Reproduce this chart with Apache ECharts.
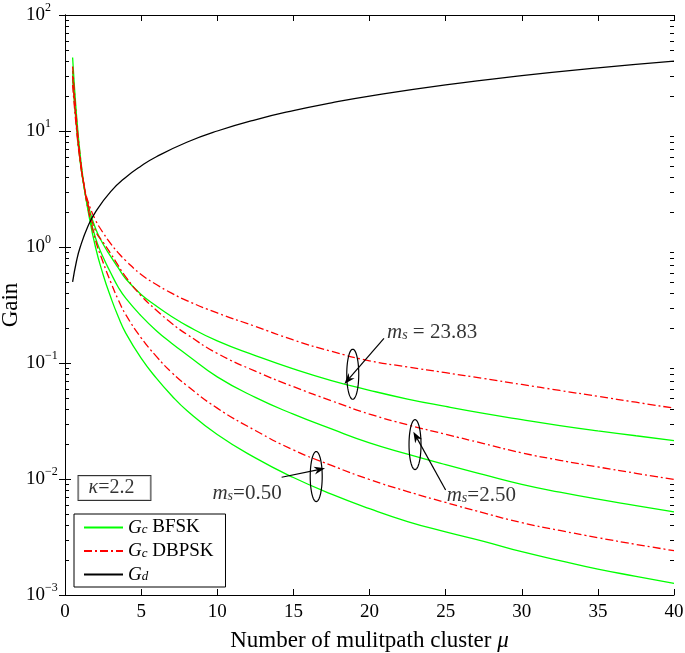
<!DOCTYPE html>
<html><head><meta charset="utf-8">
<script src="https://cdn.jsdelivr.net/npm/echarts@6/dist/echarts.min.js"></script>
<style>html,body{margin:0;padding:0;background:#fff}#c{width:685px;height:653px}</style>
</head><body><div id="c"></div>
<script>
// ---------- data ----------
const mu = [0.5,0.75,1,1.25,1.5,2,2.5,3,3.5,4,5,6,7,8,10,12.5,15,17.5,20,22.5,25,27.5,30,32.5,35,37.5,40];
const bfsk_ms050   = [43,14,6.2,3.4,2.1,1.0,0.58,0.37,0.25,0.18,0.11,0.074,0.0525,0.039,0.0242,0.0152,0.0103,0.0074,0.00555,0.0043,0.0035,0.0029,0.00236,0.00198,0.00167,0.00145,0.00126];
const dbpsk_ms050  = [36,13,6.0,3.4,2.2,1.15,0.74,0.5,0.35,0.26,0.165,0.114,0.083,0.064,0.0408,0.0262,0.0178,0.0131,0.0099,0.0078,0.00628,0.0051,0.0042,0.0036,0.00312,0.00273,0.00241];
const bfsk_ms250   = [33,12,5.6,3.3,2.2,1.2,0.82,0.6,0.45,0.36,0.255,0.19,0.148,0.118,0.076,0.0505,0.0362,0.027,0.0205,0.0164,0.0133,0.0109,0.0090,0.0077,0.0067,0.0059,0.0052];
const dbpsk_ms250  = [30,11.5,5.6,3.4,2.35,1.38,1.1,0.88,0.69,0.55,0.38,0.285,0.22,0.177,0.121,0.085,0.0625,0.0472,0.0363,0.0293,0.0243,0.0202,0.0168,0.0145,0.0127,0.0112,0.0099];
const bfsk_ms2383  = [28,11,5.4,3.3,2.35,1.45,1.06,0.83,0.66,0.53,0.39,0.31,0.252,0.21,0.155,0.116,0.089,0.0706,0.0582,0.0489,0.0422,0.0368,0.0325,0.0289,0.026,0.0236,0.0214];
const dbpsk_ms2383 = [25,10.5,5.4,3.4,2.5,1.71,1.33,1.07,0.89,0.76,0.58,0.475,0.4,0.345,0.27,0.207,0.158,0.126,0.1045,0.0925,0.0825,0.0735,0.0653,0.058,0.0516,0.0459,0.0408];
const muGd = [0.5,0.75,1,1.5,2,3,4,5,6,8,10,12.5,15,17.5,20,25,30,35,40];
const gd   = [0.5,0.75,1.0,1.5,2.0,3.0,4.0,5.0,6.0,8.0,10,12.5,15,17.5,20,25,30,35,40];

const xTicks = [0,5,10,15,20,25,30,35,40];
const yDecades = [-3,-2,-1,0,1,2];

// annotations (data coordinates)
const ellipseCenters = [[18.9,0.080],[22.99,0.0198],[16.5,0.0105]];
const arrowSegs = [[20.95,0.163,18.35,0.0659],[25.0,0.00804,22.88,0.0256],[14.23,0.01035,17.08,0.01236]];
const msLabels = [' = 23.83','=2.50','=0.50'];
const msLabelAt = [[21.15,0.185],[25.07,0.00728],[14.23,0.00755]];
const kappaText = '=2.2';
const kappaAt = [3.25,0.00835];

// ---------- chart ----------
const FONT = 'Liberation Serif';
const GREEN = '#00ff00', RED = '#ff0000';
const zip = (xs, ys) => xs.map((x,i)=>[x, ys[i]]);

const minorVals = [];
for (let e = -3; e < 2; e++) for (let m = 2; m <= 9; m++) minorVals.push(m*Math.pow(10,e));

function lineSeries(name, ys, color, dashed, xs) {
  return {
    name, type:'line', data: zip(xs||mu, ys), symbol:'none', smooth:0.5,
    lineStyle:{color, width:1.3, type: dashed ? [8,3,2,3] : 'solid'},
    itemStyle:{color}, emphasis:{disabled:true}, silent:true, z:3
  };
}

const supRich = {
  b:{fontSize:19, fontFamily:FONT, color:'#000', lineHeight:26},
  s:{fontSize:12, fontFamily:FONT, color:'#000', lineHeight:12, verticalAlign:'top'}
};

const subRich = {
  i:{fontSize:19, fontFamily:FONT, fontStyle:'italic', color:'#000', lineHeight:18},
  sub:{fontSize:13, fontFamily:FONT, fontStyle:'italic', color:'#000', lineHeight:12, verticalAlign:'bottom'},
  t:{fontSize:19, fontFamily:FONT, color:'#000', lineHeight:18}
};

const baseY = {
  type:'log', logBase:10, min:0.001, max:100, splitLine:{show:false},
  axisLine:{show:true, lineStyle:{color:'#000', width:1}},
  axisTick:{show:true, inside:true, length:6, lineStyle:{color:'#000'}},
};
const baseX = {
  type:'value', min:0, max:40, interval:5, splitLine:{show:false},
  axisLine:{show:true, onZero:false, lineStyle:{color:'#000', width:1}},
  axisTick:{show:true, inside:true, length:6, lineStyle:{color:'#000'}},
};

const option = {
  animation:false,
  backgroundColor:'#fff',
  grid:{left:65, right:11, top:15, bottom:58, containLabel:false, outerBoundsMode:'none'},
  xAxis:[
    Object.assign({}, baseX, {
      position:'bottom',
      axisLabel:{fontSize:19, fontFamily:FONT, color:'#000', margin:8},
      name:'{t|Number of mulitpath cluster }{i|μ}', nameLocation:'middle', nameGap:34, nameMoveOverlap:false,
      nameTextStyle:{rich:{t:{fontSize:23, fontFamily:FONT, color:'#000'}, i:{fontSize:23, fontFamily:FONT, fontStyle:'italic', color:'#000'}}}
    }),
    Object.assign({}, baseX, {position:'top', axisLabel:{show:false}})
  ],
  yAxis:[
    Object.assign({}, baseY, {
      position:'left',
      axisLabel:{align:'left', margin:39,
        formatter: v => { const e = Math.round(Math.log10(v)); return '{b|10}{s|' + (e<0 ? '−'+(-e) : e) + '}'; },
        rich:supRich},
      name:'Gain', nameLocation:'middle', nameGap:43, nameRotate:90, nameMoveOverlap:false,
      nameTextStyle:{fontSize:23, fontFamily:FONT, color:'#000'}
    }),
    Object.assign({}, baseY, {position:'right', axisLabel:{show:false}})
  ],
  legend:{
    show:true, orient:'vertical', left:74, top:514,
    data:['Gc BFSK','Gc DBPSK','Gd'],
    itemWidth:39, itemHeight:18, itemGap:4.5,
    padding:[4,12,3,9],
    borderColor:'#000', borderWidth:1, backgroundColor:'#fff',
    selectedMode:false,
    itemStyle:{opacity:0, borderWidth:0},
    formatter: n => ({'Gc BFSK':'{i|G}{sub|c}{t| BFSK}','Gc DBPSK':'{i|G}{sub|c}{t| DBPSK}','Gd':'{i|G}{sub|d}'})[n],
    textStyle:{rich:subRich}
  },
  series:[
    lineSeries('Gc BFSK', bfsk_ms050, GREEN, false),
    lineSeries('Gc BFSK', bfsk_ms250, GREEN, false),
    lineSeries('Gc BFSK', bfsk_ms2383, GREEN, false),
    lineSeries('Gc DBPSK', dbpsk_ms050, RED, true),
    lineSeries('Gc DBPSK', dbpsk_ms250, RED, true),
    lineSeries('Gc DBPSK', dbpsk_ms2383, RED, true),
    lineSeries('Gd', gd, '#000', false, muGd),
    { // minor log ticks on left & right axes
      type:'custom', silent:true, z:4, clip:false, data: minorVals.map(v=>[20, v]),
      renderItem:(params, api) => {
        const cs = params.coordSys; const y = Math.round(api.coord([20, api.value(1)])[1]) + 0.5;
        const xl = Math.round(cs.x), xr = Math.round(cs.x + cs.width);
        return {type:'group', children:[
          {type:'line', shape:{x1:xl, y1:y, x2:xl+4, y2:y}, style:{stroke:'#000', lineWidth:1}},
          {type:'line', shape:{x1:xr, y1:y, x2:xr-4, y2:y}, style:{stroke:'#000', lineWidth:1}}
        ]};
      }
    },
    { // ellipses
      type:'custom', silent:true, z:5, data: ellipseCenters,
      renderItem:(params, api) => {
        const c = api.coord([api.value(0), api.value(1)]);
        const pts = []; const rx = 6, ry = 25;
        for (let k = 0; k < 60; k++) { const a = k/60*2*Math.PI; pts.push([c[0]+rx*Math.cos(a), c[1]+ry*Math.sin(a)]); }
        return {type:'polygon', shape:{points:pts}, style:{fill:'none', stroke:'#000', lineWidth:1.2}};
      }
    },
    { // arrows
      type:'custom', silent:true, z:6, data: arrowSegs, encode:{x:[0,2], y:[1,3]},
      renderItem:(params, api) => {
        const p1 = api.coord([api.value(0), api.value(1)]);
        const p2 = api.coord([api.value(2), api.value(3)]);
        const dx = p2[0]-p1[0], dy = p2[1]-p1[1], L = Math.hypot(dx,dy), ux = dx/L, uy = dy/L;
        const hl = 11, hw = 4;
        const bx = p2[0]-ux*hl, by = p2[1]-uy*hl;
        const nx = p2[0]-ux*hl*0.7, ny = p2[1]-uy*hl*0.7;
        return {type:'group', children:[
          {type:'line', shape:{x1:p1[0], y1:p1[1], x2:nx, y2:ny}, style:{stroke:'#000', lineWidth:1.2}},
          {type:'polygon', shape:{points:[[p2[0],p2[1]],[bx-uy*hw, by+ux*hw],[nx,ny],[bx+uy*hw, by-ux*hw]]}, style:{fill:'#000'}}
        ]};
      }
    },
    { // m_s labels
      type:'scatter', silent:true, z:7, symbolSize:0,
      data: msLabelAt.map((p,i)=>({value:p, label:{position: i===2 ? 'left' : 'right'}})),
      label:{show:true, distance:0,
        formatter: p => '{i|m}{sub|s}{t|' + msLabels[p.dataIndex] + '}',
        rich:{
          i:{fontSize:21, fontFamily:FONT, fontStyle:'italic', color:'#000', lineHeight:20},
          sub:{fontSize:14, fontFamily:FONT, fontStyle:'italic', color:'#000', lineHeight:12, verticalAlign:'bottom'},
          t:{fontSize:21, fontFamily:FONT, color:'#000', lineHeight:20}
        }}
    },
    { // kappa box
      type:'scatter', silent:true, z:7, symbolSize:0, data:[kappaAt],
      label:{show:true, position:'inside',
        formatter: () => '{i|κ}{t|' + kappaText + '}',
        borderColor:'#000', borderWidth:1, padding:[2,16,2,10], backgroundColor:'#fff',
        rich:{
          i:{fontSize:20, fontFamily:FONT, fontStyle:'italic', color:'#000', lineHeight:20},
          t:{fontSize:20, fontFamily:FONT, color:'#000', lineHeight:20}
        }}
    }
  ]
};
const chart = echarts.init(document.getElementById('c'), null, {renderer:'canvas'});
chart.setOption(option);
</script></body></html>
